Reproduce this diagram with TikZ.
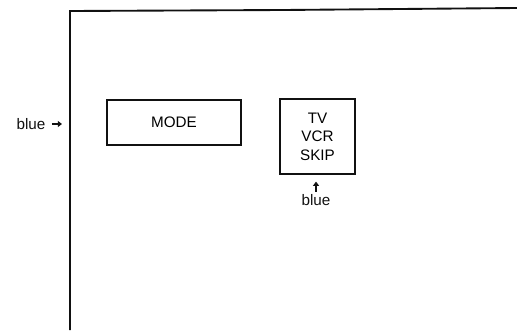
\documentclass[tikz,border=0pt]{standalone}
\usepackage{fontspec}
\setmainfont{Liberation Sans}
\usepackage{tikz}
\usetikzlibrary{arrows.meta, positioning}
\definecolor{myink}{HTML}{111111}
\tikzset{
keybox/.style={
draw=myink,
line width=1.1pt,
inner sep=0pt,
font=\fontsize{13}{15.8}\selectfont,
align=center
},
labelbox/.style={
font=\fontsize{13}{15}\selectfont,
text=myink,
inner sep=1pt
},
pointer/.style={
-{Triangle[length=3.5pt,width=5pt]},
line width=2.2pt,
draw=myink
},
frameline/.style={
draw=myink,
line width=1.6pt
}
}

\begin{document}
\begin{tikzpicture}[x=0.03cm, y=-0.03cm]
\useasboundingbox (0,0) rectangle (517,330);

% screen frame
\draw[frameline] (70,330) -- (70,11) -- (283,10) -- (517,8);

% keys
\node[keybox, minimum width=134*0.03cm, minimum height=45*0.03cm] (mode) at (174,122.5) {MODE};
\node[keybox, minimum width=75*0.03cm, minimum height=75*0.03cm] (tvvcr) at (317.5,136.5) {TV\\VCR\\SKIP};

% colour notes
\node[labelbox] (blueleft) at (31,124) {blue};
\coordinate (tipleft) at (62,124);
\draw[pointer] (blueleft.east) ++(5,0) -- (tipleft);

\node[labelbox] (bluebottom) at (316,200) {blue};
\draw[pointer, shorten >=7*0.03cm, shorten <=1pt] (bluebottom.north) -- (tvvcr.south -| bluebottom.north);

\end{tikzpicture}
\end{document}
